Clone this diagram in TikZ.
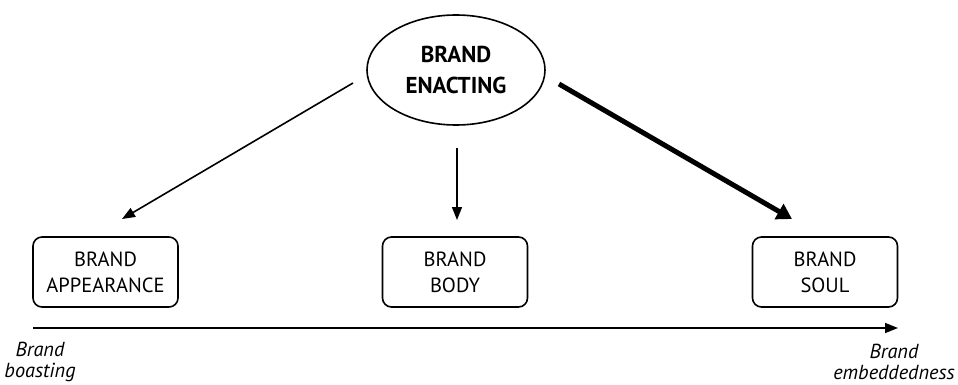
\documentclass[tikz,border=0pt]{standalone}
\usepackage{fontspec}
\setmainfont{PT Sans}
\usetikzlibrary{arrows.meta,shapes.geometric}
\begin{document}
\begin{tikzpicture}[x=1pt,y=-1pt,
  stage/.style={draw,line width=1.6pt,rounded corners=9pt,minimum width=145pt,minimum height=70pt,
    align=center,inner sep=0pt,font=\fontsize{20.5}{26}\selectfont},
  core/.style={draw,ellipse,line width=1.6pt,minimum width=178pt,minimum height=110pt,
    inner sep=0pt,align=center,font=\fontsize{23}{31}\selectfont\bfseries},
  thin/.style={line width=1.6pt,-{Triangle[length=13pt,width=10pt]}},
  heavy/.style={line width=5pt,-{Triangle[length=15pt,width=17pt]}},
  pole/.style={align=center,inner sep=0pt,font=\fontsize{20.3}{21.5}\selectfont\itshape}]
\useasboundingbox (0,0) rectangle (958,385);
\node[core] (enact) at (456,70) {BRAND\\ENACTING};
\node[stage] (app) at (105.5,272) {BRAND\\APPEARANCE};
\node[stage] (body) at (455,272) {BRAND\\BODY};
\node[stage] (soul) at (825,272) {BRAND\\SOUL};
% arrow end points
\coordinate (l0) at (353,83);  \coordinate (l1) at (122,219);
\coordinate (m0) at (457,148); \coordinate (m1) at (457,220);
\coordinate (r0) at (559,84);  \coordinate (r1) at (792,219);
\draw[thin] (l0) -- (l1);
\draw[thin] (m0) -- (m1);
\draw[heavy] (r0) -- (r1);
% continuum axis
\coordinate (ax0) at (33,328); \coordinate (ax1) at (898,328);
\draw[thin] (ax0) -- (ax1);
\node[pole] (low) at (40,362) {Brand\\boasting};
\node[pole] (high) at (894,362) {Brand\\embeddedness};
\end{tikzpicture}
\end{document}
